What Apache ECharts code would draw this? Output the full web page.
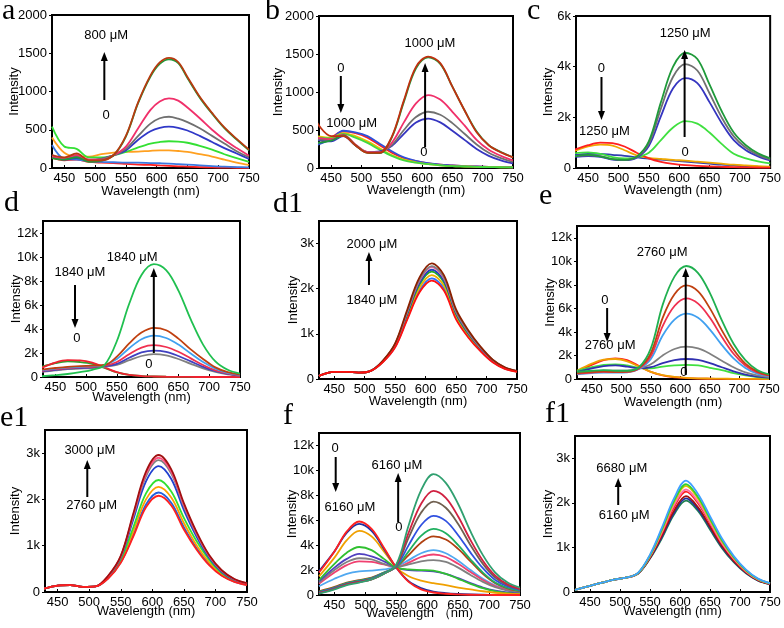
<!DOCTYPE html>
<html><head><meta charset="utf-8">
<script src="https://cdn.jsdelivr.net/npm/echarts@6/dist/echarts.min.js"></script>
<style>html,body{margin:0;padding:0;background:#fff}#c{width:784px;height:628px}</style>
</head><body><div id="c"></div>
<script>
// shared wavelength grid (nm)
const wavelengths = [425,450,470,490,510,530,550,570,590,610,630,650,670,690,710,730,750];
const a_wavelengths = [430,450,470,490,510,530,550,570,590,605,620,635,650,670,690,710,730,750];
const xTicks = [450,500,550,600,650,700,750];

// ---- panel a (0 -> 800 uM)
const a_lowRed  = [135,100,110,80,70,65,55,45,40,33,27,22,18,12,8,5,3,2];
const a_lowBlue = [300,120,110,90,80,75,70,70,65,62,58,50,45,35,25,18,12,8];
const a_orange  = [400,200,150,150,180,200,210,215,225,230,230,222,210,180,150,110,70,40];
const a_green   = [540,280,250,140,140,165,210,270,320,340,350,345,330,290,240,180,130,80];
const a_blue    = [170,110,130,100,120,165,230,370,480,525,540,525,490,420,340,260,190,120];
const a_gray    = [150,120,150,110,120,165,250,420,580,650,670,645,600,520,420,320,220,140];
const a_pink    = [150,130,170,110,110,165,280,520,760,870,910,880,790,650,500,370,260,160];
const a_dkGreen = [130,110,140,80,95,165,410,850,1195,1360,1420,1370,1175,920,710,520,370,230];
const a_brown   = [170,140,190,100,100,170,420,860,1210,1380,1440,1385,1190,930,720,530,380,240];
const a_yTicks = [0,500,1000,1500,2000];

// ---- panel b (0 -> 1000 uM)
const b_dRed    = [300,400,480,460,400,300,200,130,90,60,45,35,25,20,15,12,10];
const b_dBlue   = [300,380,490,470,420,320,220,140,95,65,45,35,25,20,15,12,10];
const b_dYellow = [420,400,460,420,350,260,170,110,75,50,35,25,20,15,12,10,8];
const b_dGreen  = [400,390,450,400,330,240,160,100,70,50,35,25,20,15,12,10,8];
const b_blue    = [370,350,420,300,210,220,290,450,600,650,600,490,370,250,160,100,60];
const b_gray    = [380,370,430,300,210,210,300,500,670,740,700,590,450,310,200,130,80];
const b_pink    = [400,380,440,310,210,205,330,600,850,960,900,740,560,370,240,160,100];
const b_green   = [330,360,430,300,200,195,400,870,1310,1455,1370,1070,760,480,300,210,140];
const b_top     = [620,420,420,300,200,200,410,890,1330,1465,1380,1070,760,470,300,205,140];
const b_yTicks = [0,500,1000,1500,2000];

// ---- panel c (0 -> 1250 uM)
const c_red     = [700,900,1000,980,850,600,380,240,160,110,80,60,45,35,25,20,15];
const c_orange  = [650,850,920,880,700,500,400,360,320,290,250,210,170,130,100,70,50];
const c_navy    = [500,560,560,520,480,420,370,330,290,250,210,170,130,100,70,50,35];
const c_ltGreen = [580,620,560,430,380,420,600,1100,1600,1850,1750,1400,950,560,380,260,180];
const c_blue    = [430,470,440,330,310,410,870,2050,3150,3550,3350,2600,1780,1100,700,460,300];
const c_gray    = [470,500,470,350,320,430,960,2350,3600,4100,3850,2950,2000,1250,800,520,340];
const c_green   = [450,520,460,350,320,450,1050,2600,4000,4550,4300,3300,2250,1400,900,580,380];
const c_yTicks = [0,2000,4000,6000];

// ---- panel d (0 -> 1840 uM)
const d_red     = [700,1200,1400,1380,1200,800,400,180,80,40,20,10,5,0,0,0,0];
const d_dkGreen = [800,1150,1300,1250,1100,750,380,170,80,40,20,10,5,0,0,0,0];
const d_gray    = [400,550,650,700,750,850,1000,1400,1750,1900,1800,1500,1100,720,420,230,120];
const d_purple  = [450,600,700,750,800,900,1100,1600,2050,2200,2100,1750,1300,850,480,260,130];
const d_pink    = [500,650,750,800,850,950,1250,1900,2450,2650,2500,2100,1550,1000,560,300,150];
const d_ltBlue  = [550,700,800,850,900,1000,1500,2400,3150,3450,3250,2700,1950,1250,700,350,180];
const d_brown   = [600,750,850,900,950,1000,1700,2800,3700,4100,3900,3200,2300,1500,800,400,200];
const d_green   = [50,150,250,400,600,1000,3000,6100,8500,9400,8900,7200,4800,2700,1300,600,280];
const big_yTicks = [0,2000,4000,6000,8000,10000,12000];

// ---- panel d1 (1840 -> 2000 uM)
const d1_red    = [70,160,160,140,180,375,700,1320,1920,2180,1960,1320,920,615,370,225,160];
const d1_blue2  = [70,160,160,140,180,380,715,1350,1960,2230,2010,1350,940,630,380,230,165];
const d1_orange = [70,160,160,140,180,385,730,1390,2020,2300,2070,1390,970,650,390,235,165];
const d1_green  = [70,160,160,140,180,390,750,1430,2090,2380,2140,1440,1000,670,405,240,170];
const d1_blue   = [70,160,160,140,180,395,760,1460,2130,2420,2180,1460,1020,680,410,245,170];
const d1_pink   = [70,160,160,140,180,400,770,1490,2180,2480,2230,1490,1040,695,420,250,175];
const d1_gray   = [70,160,160,140,180,400,775,1500,2200,2500,2250,1500,1050,700,425,255,175];
const d1_brown  = [70,160,160,140,180,410,790,1540,2250,2560,2300,1540,1080,720,430,260,180];
const small_yTicks = [0,1000,2000,3000];

// ---- panel e (0 -> 2760 uM)
const e_red     = [600,1200,1600,1750,1600,1100,600,300,150,80,40,20,10,5,0,0,0];
const e_orange  = [700,1300,1650,1700,1500,1050,600,320,180,100,60,40,25,15,10,5,0];
const e_ltGreen = [700,1000,1200,1250,1150,950,900,1050,1150,1200,1150,950,750,500,300,170,90];
const e_navy    = [600,900,1100,1150,1050,900,1000,1350,1600,1700,1620,1350,1000,650,380,210,110];
const e_gray    = [450,600,700,720,720,900,1250,2000,2550,2750,2600,2150,1550,1000,560,300,160];
const e_ltBlue  = [400,500,550,540,560,850,1700,3700,5050,5550,5200,4200,2900,1750,940,460,240];
const e_pink    = [450,550,600,580,600,900,1950,4500,6200,6850,6400,5200,3600,2150,1150,560,290];
const e_brown   = [500,600,650,600,620,950,2200,5200,7200,7950,7450,6000,4150,2500,1300,650,330];
const e_green   = [600,700,750,700,700,1000,2600,6300,8700,9600,9000,7300,5000,3000,1600,770,400];

// ---- panel e1 (2760 -> 3000 uM)
const e1_red    = [60,140,150,110,120,290,630,1200,1830,2080,1870,1350,920,580,350,220,150];
const e1_blue2  = [60,140,150,110,120,295,640,1240,1890,2150,1930,1400,950,600,360,225,155];
const e1_orange = [60,140,150,110,120,300,660,1310,2000,2270,2040,1490,1010,640,380,235,160];
const e1_green  = [60,140,150,110,120,310,690,1400,2130,2420,2170,1600,1100,700,410,250,170];
const e1_blue   = [60,140,150,110,120,330,740,1570,2390,2720,2440,1770,1200,740,430,260,175];
const e1_gray   = [60,140,150,110,120,340,760,1640,2500,2850,2560,1850,1250,770,450,270,180];
const e1_pink   = [60,140,150,110,120,345,770,1670,2550,2900,2600,1880,1270,785,460,275,185];
const e1_dkRed  = [60,140,150,110,120,350,780,1700,2600,2960,2650,1920,1300,800,470,280,190];

// ---- panel f (0 -> 6160 uM)
const f_ltBlue  = [700,1300,1700,1900,1950,2050,2250,2800,3350,3600,3350,2750,2000,1300,760,430,250];
const f_pink    = [900,1800,2400,2700,2650,2450,2250,2600,3050,3250,3050,2500,1850,1200,700,400,230];
const f_gray    = [1000,2000,2650,2950,2850,2500,2250,2450,2700,2800,2650,2200,1600,1050,620,350,200];
const f_purple  = [1100,2200,2900,3300,3100,2700,2200,2000,1950,1900,1700,1350,950,600,350,200,100];
const f_green   = [1200,2500,3400,3850,3600,2900,2200,2050,2000,1950,1700,1300,900,550,300,150,80];
const f_orange  = [1500,3000,4400,5150,4700,3500,2200,1500,1150,950,800,600,450,300,180,100,60];
const f_navy    = [1900,3500,5000,5700,5150,3700,2200,1100,550,280,150,80,40,20,10,5,0];
const f_red     = [1800,3500,5100,5900,5300,3800,2200,1050,450,200,100,50,20,10,0,0,0];
const f_brown   = [300,650,1000,1200,1400,1800,2250,3200,4200,4700,4450,3700,2700,1700,950,530,310];
const f_green2  = [250,600,950,1150,1350,1800,2250,3500,4750,5300,4950,4000,2850,1800,1000,570,330];
const f_blue    = [200,550,900,1100,1300,1750,2300,4000,5600,6350,5950,4800,3400,2150,1200,680,400];
const f_grayBr  = [150,500,850,1050,1250,1700,2350,4600,6600,7500,7000,5700,4000,2500,1400,780,460];
const f_crimson = [150,500,850,1050,1250,1700,2400,5000,7300,8350,7800,6300,4400,2750,1550,850,500];
const f_teal    = [100,450,800,1000,1250,1700,2450,5600,8400,9700,9000,7300,5100,3200,1800,1000,600];

// ---- panel f1 (6160 -> 6680 uM)
const f1_dkGreen = [50,140,210,280,320,410,750,1210,1740,2050,1820,1400,985,665,420,255,175];
const f1_navy    = [50,140,210,280,320,412,760,1240,1780,2100,1860,1440,1010,680,430,260,178];
const f1_dkRed   = [50,140,210,280,320,415,770,1270,1820,2150,1900,1470,1030,695,440,265,180];
const f1_red     = [50,140,210,280,320,420,790,1320,1900,2250,1990,1540,1080,725,455,275,185];
const f1_pink    = [50,140,210,280,320,420,800,1350,1950,2300,2030,1570,1100,740,465,280,188];
const f1_yellow  = [50,140,210,280,320,425,815,1390,2010,2380,2100,1620,1140,765,480,288,193];
const f1_green   = [50,140,210,280,320,425,820,1410,2040,2420,2130,1650,1160,775,485,290,195];
const f1_blue    = [50,140,210,280,320,430,840,1450,2100,2500,2200,1700,1200,800,500,300,200];

// annotations: [text, x(nm), y(intensity)] and arrows [x, yFrom, yTo]
const notes = {
  a:  [['800 μM',518,1739],['0',518,693]],
  b:  [['0',466,1316],['1000 μM',484,592],['1000 μM',613,1645],['0',603,211]],
  c:  [['0',472,3947],['1250 μM',477,1461],['1250 μM',610,5329],['0',610,632]],
  d:  [['1840 μM',490,8750],['0',485,3250],['1840 μM',575,10000],['0',602,1083]],
  d1: [['2000 μM',512,2990],['1840 μM',512,1750]],
  e:  [['0',472,6712],['2760 μM',481,2889],['2760 μM',569,10791],['0',606,595]],
  e1: [['3000 μM',501,3068],['2760 μM',504,1880]],
  f:  [['0',451,11796],['6160 μM',475,7062],['6160 μM',551,10432],['0',554,5457]],
  f1: [['6680 μM',503,2782],['6160 μM',507,1728]]
};
const arrows = {
  a:  [[515,889,1516]],
  b:  [[466,1211,724],[605,276,1382]],
  c:  [[472,3592,1895],[609,1224,4658]],
  d:  [[482,7667,4083],[610,2000,9083]],
  d1: [[507,2082,2813]],
  e:  [[476,6033,3144],[609,340,9431]],
  e1: [[497,2052,2852]],
  f:  [[452,11074,8265],[553,5858,9790]],
  f1: [[497,1952,2558]]
};

const panels = [
  {id:'a', w:a_wavelengths, grid:[52,15,197,153], xMin:430, yMax:2000, yTicks:a_yTicks, k:false, yGap:31, xGap:17, letter:[2,26],
   series:[[a_lowRed,'#ff2020'],[a_lowBlue,'#3a78e0'],[a_orange,'#ffa020'],[a_green,'#33e033'],[a_blue,'#3038c8'],[a_gray,'#707070'],[a_pink,'#f0306a'],[a_dkGreen,'#1f9a3a'],[a_brown,'#b83a10']]},
  {id:'b', grid:[319,16,194,152], xMin:430, yMax:2000, yTicks:b_yTicks, k:false, yGap:34, xGap:16, letter:[265,26],
   series:[[b_dRed,'#ff2020'],[b_dBlue,'#3050d8'],[b_dYellow,'#e8c000'],[b_dGreen,'#40d840'],[b_blue,'#3535c0'],[b_gray,'#707070'],[b_pink,'#f0306a'],[b_green,'#1f9a3a'],[b_top,'#c03010']]},
  {id:'c', grid:[576,16,197,152], xMin:430, yMax:6000, yTicks:c_yTicks, k:true, yGap:21, xGap:16, letter:[527,26],
   series:[[c_navy,'#3040b0'],[c_orange,'#f0a800'],[c_red,'#ff2020'],[c_ltGreen,'#40e040'],[c_blue,'#3535c0'],[c_gray,'#707070'],[c_green,'#1f9a3a']]},
  {id:'d', grid:[43,221,197,156], xMin:430, yMax:13000, yTicks:big_yTicks, k:true, yGap:20, xGap:14, letter:[4,218],
   series:[[d_dkGreen,'#30a030'],[d_red,'#f02030'],[d_gray,'#808080'],[d_purple,'#4040c0'],[d_pink,'#f03050'],[d_ltBlue,'#40a0f0'],[d_brown,'#c04010'],[d_green,'#20c050']]},
  {id:'d1', grid:[319,221,198,158], xMin:425, yMax:3500, yTicks:small_yTicks, k:true, yGap:19, xGap:16, letter:[273,219],
   series:[[d1_blue2,'#3070ff'],[d1_orange,'#f0b000'],[d1_green,'#20b020'],[d1_blue,'#2040c0'],[d1_pink,'#f060a0'],[d1_gray,'#808080'],[d1_brown,'#8b2000'],[d1_red,'#ff1010']]},
  {id:'e', grid:[577,226,192,153], xMin:425, yMax:13000, yTicks:big_yTicks, k:true, yGap:20, xGap:17, letter:[539,211],
   series:[[e_red,'#ff2020'],[e_orange,'#f0a000'],[e_ltGreen,'#40e040'],[e_navy,'#3030b0'],[e_gray,'#808080'],[e_ltBlue,'#40a0f0'],[e_pink,'#f03050'],[e_brown,'#c04010'],[e_green,'#20b050']]},
  {id:'e1', grid:[45,430,202,162], xMin:430, yMax:3500, yTicks:small_yTicks, k:true, yGap:23, xGap:13, letter:[0,433],
   series:[[e1_blue2,'#2060e0'],[e1_orange,'#ffa000'],[e1_green,'#30e030'],[e1_blue,'#2040d0'],[e1_gray,'#808080'],[e1_pink,'#ff5080'],[e1_dkRed,'#a01010'],[e1_red,'#ff2020']]},
  {id:'f', grid:[319,433,201,162], xMin:425, yMax:13000, yTicks:big_yTicks, k:true, yGap:20, xGap:12, letter:[283,431],
   series:[[f_ltBlue,'#50a8f0'],[f_pink,'#f04070'],[f_gray,'#808080'],[f_purple,'#5040c0'],[f_green,'#30c030'],[f_orange,'#f0a000'],[f_navy,'#2030a0'],[f_red,'#ff2020'],
           [f_brown,'#b04010'],[f_green2,'#20b060'],[f_blue,'#3050e0'],[f_grayBr,'#706050'],[f_crimson,'#d02040'],[f_teal,'#30a070']]},
  {id:'f1', grid:[575,436,195,156], xMin:425, yMax:3500, yTicks:small_yTicks, k:true, yGap:20, xGap:13, letter:[545,429],
   series:[[f1_dkGreen,'#208050'],[f1_navy,'#2030a0'],[f1_dkRed,'#a01010'],[f1_red,'#ff2020'],[f1_pink,'#ff70a8'],[f1_yellow,'#e0c000'],[f1_green,'#30d030'],[f1_blue,'#40a0ff']]}
];

const FONT = '"Liberation Sans", Arial, sans-serif';
const chart = echarts.init(document.getElementById('c'), null, {renderer:'canvas'});
const option = {animation:false, backgroundColor:'#fff', grid:[], xAxis:[], yAxis:[], series:[]};
panels.forEach((p,i)=>{
  const wl = p.w || wavelengths;
  option.grid.push({left:p.grid[0], top:p.grid[1], width:p.grid[2], height:p.grid[3], show:true, borderColor:'#000', borderWidth:2, backgroundColor:'transparent'});
  option.xAxis.push({type:'value', gridIndex:i, min:p.xMin, max:750,
    name: p.id==='f' ? 'Wavelength （nm)' : 'Wavelength (nm)', nameLocation:'middle', nameGap:p.xGap, nameMoveOverlap:false,
    nameTextStyle:{fontFamily:FONT, fontSize:13, color:'#000', verticalAlign:'top'},
    axisLine:{show:false}, splitLine:{show:false},
    axisTick:{show:true, inside:true, length:3, customValues:xTicks, lineStyle:{color:'#000'}},
    axisLabel:{customValues:xTicks, margin:4, fontFamily:FONT, fontSize:13, color:'#000'}});
  option.yAxis.push({type:'value', gridIndex:i, min:0, max:p.yMax,
    name:'Intensity', nameLocation:'middle', nameGap:p.yGap, nameRotate:90, nameMoveOverlap:false,
    nameTextStyle:{fontFamily:FONT, fontSize:13, color:'#000'},
    axisLine:{show:false}, splitLine:{show:false},
    axisTick:{show:true, length:3, customValues:p.yTicks, lineStyle:{color:'#000'}},
    axisLabel:{customValues:p.yTicks, margin:5, fontFamily:FONT, fontSize:13, color:'#000',
      formatter: v => (p.k && v>0) ? (v/1000)+'k' : String(v)}});
  p.series.forEach(([vals,col])=>{
    option.series.push({type:'line', xAxisIndex:i, yAxisIndex:i, smooth:0.35, showSymbol:false, symbol:'none',
      lineStyle:{color:col, width:1.8}, itemStyle:{color:col}, silent:true,
      data: wl.map((w,j)=>[w, vals[j]])});
  });
});
chart.setOption(option);

// annotations placed in data coordinates via the axes
const gfx = [];
panels.forEach((p,i)=>{
  gfx.push({type:'text', x:p.letter[0], y:p.letter[1], z:100,
    style:{text:p.id, font:'30px "Liberation Serif", "Times New Roman", serif', fill:'#000', align:'left', verticalAlign:'bottom'}});
  (notes[p.id]||[]).forEach(([t,x,y])=>{
    const pt = chart.convertToPixel({gridIndex:i}, [x,y]);
    gfx.push({type:'text', x:pt[0], y:pt[1], z:100,
      style:{text:t, font:'13px '+FONT, fill:'#000', align:'center', verticalAlign:'middle'}});
  });
  (arrows[p.id]||[]).forEach(([x,y1,y2])=>{
    const a = chart.convertToPixel({gridIndex:i}, [x,y1]);
    const b = chart.convertToPixel({gridIndex:i}, [x,y2]);
    const dir = b[1] < a[1] ? 1 : -1; // 1 = pointing up
    const hb = b[1] + dir*9;
    gfx.push({type:'line', z:100, shape:{x1:a[0], y1:a[1], x2:b[0], y2:hb}, style:{stroke:'#000', lineWidth:2}});
    gfx.push({type:'polygon', z:100, shape:{points:[[b[0],b[1]],[b[0]-3.5,hb],[b[0]+3.5,hb]]}, style:{fill:'#000'}});
  });
});
chart.setOption({graphic:gfx});
</script>
</body></html>
